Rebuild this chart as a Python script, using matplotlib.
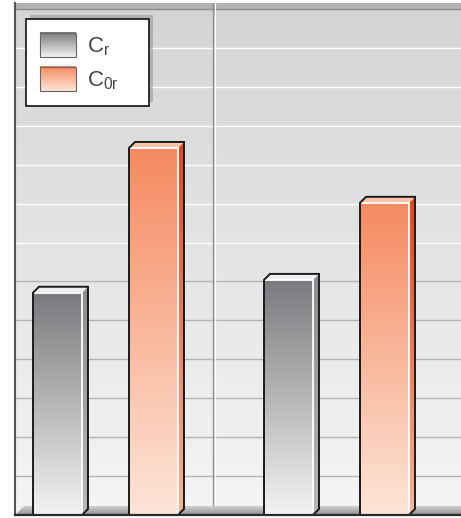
import numpy as np
import matplotlib
matplotlib.use("Agg")
import matplotlib.pyplot as plt
from matplotlib.patches import Polygon, Patch, Rectangle
from matplotlib.colors import LinearSegmentedColormap
from matplotlib.legend_handler import HandlerBase
from matplotlib.image import BboxImage
from matplotlib.transforms import Bbox, TransformedBbox

plt.rcParams["font.family"] = ["Liberation Sans", "DejaVu Sans"]
plt.rcParams["mathtext.default"] = "regular"

# ── Data ───────────────────────────────────────────────────────────────────────
groups = [0, 1]
series = ["C$_{r}$", "C$_{0r}$"]
cr_vals = [5.71, 6.04]
c0r_vals = [9.43, 8.02]
y_max = 13

# ── Styles ─────────────────────────────────────────────────────────────────────
styles = {
    "gray":   dict(top="#797a7d", bot="#f3f3f3", side_top="#8c8d90", side_bot="#b8b8b8", cap="#eeeeee"),
    "orange": dict(top="#f58a60", bot="#fde5d8", side_top="#e5461b", side_bot="#f7b597", cap="#fcc5a8"),
}
bar_w = 0.212
offset = 0.2078
dx, dy = 0.026, 0.154          # fake depth of the 3d bars


def cmap_of(bot, top):
    return LinearSegmentedColormap.from_list("g", [bot, top])


def grad_fill(ax, verts, c_top, c_bot, y0, y1, z):
    poly = Polygon(verts, closed=True, fc="none", ec="none", zorder=z)
    ax.add_patch(poly)
    xs = [v[0] for v in verts]
    im = ax.imshow(np.linspace(0, 1, 256).reshape(-1, 1), cmap=cmap_of(c_bot, c_top),
                   origin="lower", aspect="auto", interpolation="bicubic",
                   extent=[min(xs), max(xs), y0, y1], zorder=z)
    im.set_clip_path(poly)
    return im


def bar3d(ax, xc, v, st):
    x0, x1 = xc - bar_w / 2, xc + bar_w / 2
    front = [(x0, 0), (x1, 0), (x1, v), (x0, v)]
    grad_fill(ax, front, st["top"], st["bot"], 0, v, 5)
    side = [(x1, 0), (x1 + dx, dy), (x1 + dx, v + dy), (x1, v)]
    grad_fill(ax, side, st["side_top"], st["side_bot"], 0, v + dy, 5)
    ax.add_patch(Polygon([(x0, v), (x0 + dx, v + dy), (x1 + dx, v + dy), (x1, v)],
                         closed=True, fc=st["cap"], ec="none", zorder=5))
    # highlight edges between faces
    ax.plot([x0, x1, x1], [v, v, 0], color="white", lw=1.3, zorder=6,
            solid_joinstyle="miter")
    outline = [(x0, 0), (x1, 0), (x1 + dx, dy), (x1 + dx, v + dy), (x0 + dx, v + dy), (x0, v)]
    ax.add_patch(Polygon(outline, closed=True, fc="none", ec="#1a1a1a", lw=1.4,
                         joinstyle="miter", zorder=7))


class GradientHandler(HandlerBase):
    def __init__(self, top, bot):
        super().__init__()
        self.cmap = cmap_of(bot, top)

    def create_artists(self, legend, orig_handle, xdescent, ydescent, width, height, fontsize, trans):
        bb = TransformedBbox(Bbox.from_bounds(-xdescent, -ydescent, width, height), trans)
        img = BboxImage(bb, cmap=self.cmap, origin="upper", interpolation="bicubic")
        img.set_data(np.linspace(1, 0, 64).reshape(-1, 1))
        edge = Rectangle((-xdescent, -ydescent), width, height, fill=False,
                         ec="#666666", lw=0.8, transform=trans)
        return [img, edge]


fig = plt.figure(figsize=(4.61, 5.18), dpi=100)
ax = fig.add_axes([15 / 461, 3 / 518, 446 / 461, 512 / 518])
xlim = (-0.3918, 1.539)
ylim = (0, y_max + 0.154)

# background wall
ax.imshow(np.linspace(0, 1, 256).reshape(-1, 1), cmap=cmap_of("#f4f5f5", "#d3d4d6"),
          origin="lower", aspect="auto", extent=[*xlim, *ylim], zorder=0)

# gridlines
for k in range(1, y_max):
    ax.axhline(k, color="white" if k >= 7 else "#b5b5b5", lw=1.0, zorder=1)
ax.axhspan(y_max, ylim[1], color="#b3b3b3", lw=0, zorder=1)
ax.axhline(y_max, color="#8a8a8a", lw=1.0, zorder=1)

# divider between the two groups
ax.axvline(0.465, color="#909090", lw=1.0, zorder=1)
ax.axvline(0.472, color="white", lw=0.8, zorder=1)

# floor
floor_h = 0.23
grad_fill(ax, [(xlim[0], 0), (xlim[0] + 0.04, floor_h), (xlim[1], floor_h), (xlim[1], 0)],
          "#d2d2d2", "#909090", 0, floor_h, 2)

for i, g in enumerate(groups):
    bar3d(ax, g - offset, cr_vals[i], styles["gray"])
    bar3d(ax, g + offset, c0r_vals[i], styles["orange"])

ax.set_xlim(*xlim)
ax.set_ylim(*ylim)
ax.set_xticks([])
ax.set_yticks([])
for s in ["top", "right"]:
    ax.spines[s].set_visible(False)
ax.spines["left"].set_color("#555555")
ax.spines["left"].set_linewidth(1.5)
ax.spines["bottom"].set_color("#2a2a2a")
ax.spines["bottom"].set_linewidth(1.6)
for s in ax.spines.values():
    s.set_zorder(8)

handles = [Patch(), Patch()]
hmap = {handles[0]: GradientHandler(styles["gray"]["top"], styles["gray"]["bot"]),
        handles[1]: GradientHandler(styles["orange"]["top"], styles["orange"]["bot"])}
leg = ax.legend(handles, series, handler_map=hmap, loc="upper left", mode="expand",
                bbox_to_anchor=(0.0247, 0.5, 0.2758, 0.4688), borderaxespad=0, fontsize=16,
                handlelength=1.62, handleheight=1.3, handletextpad=0.5,
                labelspacing=0.42, borderpad=0.62, fancybox=False, framealpha=1,
                edgecolor="#111111", labelcolor="#444444")
leg.get_frame().set_linewidth(1.2)
leg.set_zorder(10)

# soft shadow up-right of the legend box
fig.canvas.draw()
bb = leg.get_window_extent().translated(4, 4).transformed(ax.transAxes.inverted())
ax.add_patch(Rectangle((bb.x0, bb.y0), bb.width, bb.height, transform=ax.transAxes,
                       fc="#999999", ec="none", alpha=0.6, zorder=9))

fig.savefig("out.png", dpi=100)
